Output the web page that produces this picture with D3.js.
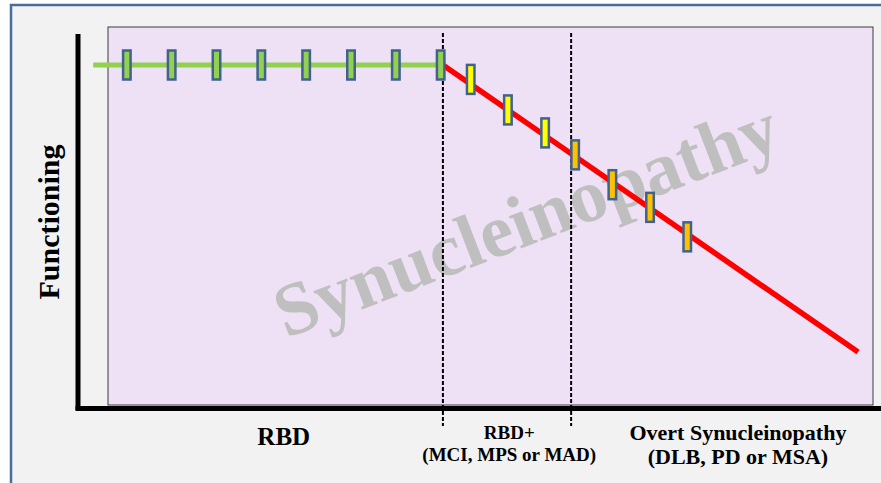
<!DOCTYPE html>
<html>
<head>
<meta charset="utf-8">
<script src="https://cdn.jsdelivr.net/npm/d3@7/dist/d3.min.js"></script>
<style>
  html, body { margin: 0; padding: 0; background: #ffffff; }
  svg { display: block; }
</style>
</head>
<body>
<svg id="chart" width="881" height="483"></svg>
<script>
// ---- data ----
const greenMarkerT = [1, 2, 3, 4, 5, 6, 7, 8];
const greenLevel = 100;
const greenLineT = [0.25, 8.05];
const yellowMarkers = [[8.67, 95.8], [9.5, 86.9], [10.33, 80.2]];
const orangeMarkers = [[11.0, 73.8], [11.83, 65.1], [12.67, 58.5], [13.5, 49.9]];
const redLine = [[8.05, 100], [17.31, 16.3]];
const stageBoundaries = [8.05, 10.91];
const stageLabels = [
  { t: 4.5, lines: ["RBD"] },
  { t: 9.53, lines: ["RBD+", "(MCI, MPS or MAD)"] },
  { t: 14.63, lines: ["Overt Synucleinopathy", "(DLB, PD or MSA)"] }
];
const yLabel = "Functioning";
const watermark = "Synucleinopathy";

// ---- layout ----
const svg = d3.select("#chart");
const W = 881, H = 483;
const plot = { x0: 108, x1: 873, y0: 27, y1: 405 };
const serif = "'Liberation Serif', 'Times New Roman', serif";

const x = d3.scaleLinear().domain([0, 18]).range([82, 889]);
const y = d3.scaleLinear().domain([0, 100]).range([408, 65]);

// panel background + border
svg.append("rect").attr("x", 0).attr("y", 0).attr("width", W).attr("height", H).attr("fill", "#ffffff");
svg.append("rect").attr("x", 11).attr("y", 5).attr("width", W + 10).attr("height", H + 10)
  .attr("fill", "#f2f2f2").attr("stroke", "#4a6c9c").attr("stroke-width", 2.5);

// plot area
svg.append("rect").attr("x", plot.x0).attr("y", plot.y0)
  .attr("width", plot.x1 - plot.x0).attr("height", plot.y1 - plot.y0)
  .attr("fill", "#efe1f5").attr("stroke", "#3a3a3a").attr("stroke-width", 1);

// watermark
svg.append("text")
  .attr("transform", "translate(527,222) rotate(-21)")
  .attr("text-anchor", "middle")
  .attr("dy", "0.3em")
  .attr("font-family", serif)
  .attr("font-weight", "bold")
  .attr("font-size", 75)
  .attr("fill", "#bfbfbf")
  .text(watermark);

// axes (plain thick lines, no ticks)
svg.append("line").attr("x1", 78).attr("x2", 78).attr("y1", 34).attr("y2", 410)
  .attr("stroke", "#000").attr("stroke-width", 5);
svg.append("line").attr("x1", 75.5).attr("x2", 881).attr("y1", 408.5).attr("y2", 408.5)
  .attr("stroke", "#000").attr("stroke-width", 5);

// stage boundaries
svg.selectAll("line.stage").data(stageBoundaries).enter().append("line")
  .attr("class", "stage")
  .attr("x1", d => x(d)).attr("x2", d => x(d))
  .attr("y1", 33).attr("y2", 426)
  .attr("stroke", "#000").attr("stroke-width", 2)
  .attr("stroke-dasharray", "4,2");

// green line
svg.append("line")
  .attr("x1", x(greenLineT[0])).attr("x2", x(greenLineT[1]))
  .attr("y1", y(greenLevel)).attr("y2", y(greenLevel))
  .attr("stroke", "#92d050").attr("stroke-width", 5);

// red line
svg.append("path")
  .datum(redLine)
  .attr("d", d3.line().x(d => x(d[0])).y(d => y(d[1])))
  .attr("fill", "none").attr("stroke", "#ff0000").attr("stroke-width", 5.5);

// markers
const mw = 7.5, mh = 29;
function markers(data, fill) {
  svg.append("g").selectAll("rect").data(data).enter().append("rect")
    .attr("x", d => x(d[0]) - mw / 2)
    .attr("y", d => y(d[1]) - mh / 2)
    .attr("width", mw).attr("height", mh)
    .attr("fill", fill).attr("stroke", "#41628f").attr("stroke-width", 2.5);
}
markers(greenMarkerT.map(t => [t, greenLevel]), "#92d050");
markers(yellowMarkers, "#ffff00");
markers(orangeMarkers, "#ffc000");

// y label
svg.append("text")
  .attr("transform", "translate(59,222) rotate(-90)")
  .attr("text-anchor", "middle")
  .attr("font-family", serif)
  .attr("font-weight", "bold")
  .attr("font-size", 30)
  .attr("fill", "#000")
  .text(yLabel);

// stage labels
const labelSizes = [25, 19, 22];
const labelBaselines = [[445], [439, 461], [440, 464]];
stageLabels.forEach((s, i) => {
  const t = svg.append("text")
    .attr("text-anchor", "middle")
    .attr("font-family", serif)
    .attr("font-weight", "bold")
    .attr("font-size", labelSizes[i])
    .attr("fill", "#000");
  s.lines.forEach((ln, j) => {
    t.append("tspan").attr("x", x(s.t)).attr("y", labelBaselines[i][j]).text(ln);
  });
});
</script>
</body>
</html>
